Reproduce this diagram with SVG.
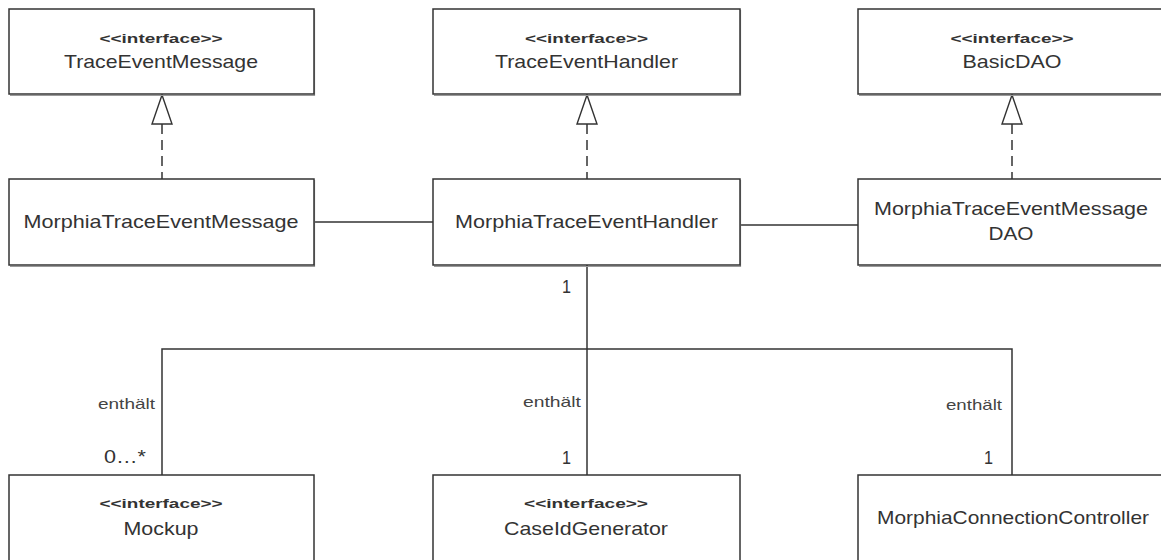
<svg xmlns="http://www.w3.org/2000/svg" width="1161" height="560" viewBox="0 0 1161 560">
  <style>
    .box { fill: #ffffff; stroke: #333333; stroke-width: 1.5; }
    .shadow { fill: none; stroke: #9a9a9a; stroke-width: 1.2; }
    text { font-family: "Liberation Sans", Arial, sans-serif; }
    .stereo { font-size: 13.5px; font-weight: bold; fill: #333333; text-anchor: middle; }
    .name { font-size: 18.5px; fill: #333333; text-anchor: middle; }
    .label { font-size: 14.5px; fill: #444444; text-anchor: end; }
    .mult { font-size: 18px; fill: #333333; text-anchor: end; }
    .line { fill: none; stroke: #333333; stroke-width: 1.5; }
    .dash { fill: none; stroke: #333333; stroke-width: 1.5; stroke-dasharray: 10 6; }
    .tri { fill: #ffffff; stroke: #333333; stroke-width: 1.4; }
  </style>

  <!-- connectors -->
  <g id="connectors">
    <!-- realizations -->
    <path class="dash" d="M162 124 V179"/>
    <polygon class="tri" points="162,95 152,124 172,124"/>
    <path class="dash" d="M587 124 V179"/>
    <polygon class="tri" points="587,95 577,124 597,124"/>
    <path class="dash" d="M1012 124 V179"/>
    <polygon class="tri" points="1012,95 1002,124 1022,124"/>
    <!-- associations between middle row -->
    <path class="line" d="M314 222 H433"/>
    <path class="line" d="M740 225 H858"/>
    <!-- containment tree -->
    <path class="line" d="M587 265 V475"/>
    <path class="line" d="M162 475 V349 H1012 V475"/>
    <!-- labels -->
    <text class="mult" x="571" y="293" textLength="9" lengthAdjust="spacingAndGlyphs">1</text>
    <text class="label" x="155" y="409" textLength="57" lengthAdjust="spacingAndGlyphs">enthält</text>
    <text class="mult" x="146" y="463" textLength="42" lengthAdjust="spacingAndGlyphs">0…*</text>
    <text class="label" x="581" y="407" textLength="58" lengthAdjust="spacingAndGlyphs">enthält</text>
    <text class="mult" x="571" y="464" textLength="9" lengthAdjust="spacingAndGlyphs">1</text>
    <text class="label" x="1002" y="410" textLength="56" lengthAdjust="spacingAndGlyphs">enthält</text>
    <text class="mult" x="993" y="464" textLength="9" lengthAdjust="spacingAndGlyphs">1</text>
  </g>

  <!-- top row: interfaces -->
  <g id="trace-event-message">
    <path class="shadow" d="M10 95.5 H314.5 V10"/>
    <rect class="box" x="9" y="9" width="305" height="85"/>
    <text class="stereo" x="161" y="43" textLength="123" lengthAdjust="spacingAndGlyphs">&lt;&lt;interface&gt;&gt;</text>
    <text class="name" x="161" y="68" textLength="194" lengthAdjust="spacingAndGlyphs">TraceEventMessage</text>
  </g>
  <g id="trace-event-handler">
    <path class="shadow" d="M434 95.5 H740.5 V10"/>
    <rect class="box" x="433" y="9" width="307" height="85"/>
    <text class="stereo" x="586.5" y="43" textLength="123" lengthAdjust="spacingAndGlyphs">&lt;&lt;interface&gt;&gt;</text>
    <text class="name" x="586.5" y="68" textLength="183" lengthAdjust="spacingAndGlyphs">TraceEventHandler</text>
  </g>
  <g id="basic-dao">
    <path class="shadow" d="M859 95.5 H1166"/>
    <rect class="box" x="858" y="9" width="308" height="85"/>
    <text class="stereo" x="1012" y="43" textLength="123" lengthAdjust="spacingAndGlyphs">&lt;&lt;interface&gt;&gt;</text>
    <text class="name" x="1012" y="68" textLength="99" lengthAdjust="spacingAndGlyphs">BasicDAO</text>
  </g>

  <!-- middle row: implementations -->
  <g id="morphia-trace-event-message">
    <path class="shadow" d="M10 266.5 H314.5 V180"/>
    <rect class="box" x="9" y="179" width="305" height="86"/>
    <text class="name" x="161" y="228" textLength="275" lengthAdjust="spacingAndGlyphs">MorphiaTraceEventMessage</text>
  </g>
  <g id="morphia-trace-event-handler">
    <path class="shadow" d="M434 266.5 H740.5 V180"/>
    <rect class="box" x="433" y="179" width="307" height="86"/>
    <text class="name" x="586.5" y="228" textLength="263" lengthAdjust="spacingAndGlyphs">MorphiaTraceEventHandler</text>
  </g>
  <g id="morphia-trace-event-message-dao">
    <path class="shadow" d="M859 266.5 H1166"/>
    <rect class="box" x="858" y="179" width="308" height="86"/>
    <text class="name" x="1011" y="215" textLength="274" lengthAdjust="spacingAndGlyphs">MorphiaTraceEventMessage</text>
    <text class="name" x="1011" y="240" textLength="45" lengthAdjust="spacingAndGlyphs">DAO</text>
  </g>

  <!-- bottom row: contained parts -->
  <g id="mockup">
    <rect class="box" x="9" y="475" width="305" height="95"/>
    <text class="stereo" x="161" y="508" textLength="123" lengthAdjust="spacingAndGlyphs">&lt;&lt;interface&gt;&gt;</text>
    <text class="name" x="161" y="535" textLength="75" lengthAdjust="spacingAndGlyphs">Mockup</text>
  </g>
  <g id="case-id-generator">
    <rect class="box" x="433" y="475" width="307" height="95"/>
    <text class="stereo" x="586" y="508" textLength="124" lengthAdjust="spacingAndGlyphs">&lt;&lt;interface&gt;&gt;</text>
    <text class="name" x="586" y="535" textLength="164" lengthAdjust="spacingAndGlyphs">CaseIdGenerator</text>
  </g>
  <g id="morphia-connection-controller">
    <rect class="box" x="858" y="475" width="308" height="95"/>
    <text class="name" x="1013" y="524" textLength="272" lengthAdjust="spacingAndGlyphs">MorphiaConnectionController</text>
  </g>
</svg>
